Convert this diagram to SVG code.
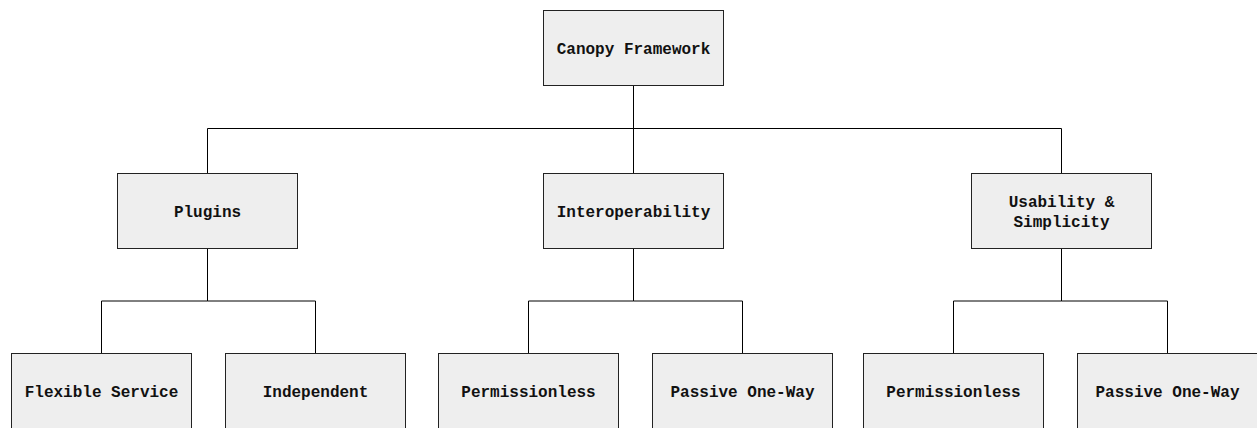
<svg xmlns="http://www.w3.org/2000/svg" width="1257" height="428" viewBox="0 0 1257 428">
  <style>
    .box { fill: #eeeeee; stroke: #222222; stroke-width: 1; }
    .label { font-family: "Liberation Mono", "Courier New", monospace; font-weight: bold; font-size: 16px; fill: #111111; text-anchor: middle; }
    .edge { fill: none; stroke: #000000; stroke-width: 1; }
  </style>
  <rect width="1257" height="428" fill="#ffffff"/>

  <!-- tree connectors: parent bottom to child top, orthogonal -->
  <g id="connectors">
    <path class="edge" d="M633.5 85 V128.5 H207.5 V173"/>
    <path class="edge" d="M633.5 85 V128.5 V173"/>
    <path class="edge" d="M633.5 85 V128.5 H1061.5 V173"/>
    <path class="edge" d="M207.5 248 V301 H101.5 V353"/>
    <path class="edge" d="M207.5 248 V301 H315.5 V353"/>
    <path class="edge" d="M633.5 248 V301 H528.5 V353"/>
    <path class="edge" d="M633.5 248 V301 H742.5 V353"/>
    <path class="edge" d="M1061.5 248 V301 H953.5 V353"/>
    <path class="edge" d="M1061.5 248 V301 H1167.5 V353"/>
  </g>

  <g id="canopy-framework">
    <rect class="box" x="543.5" y="10.5" width="180" height="75"/>
    <text class="label" x="633.5" y="54">Canopy Framework</text>
  </g>

  <g id="plugins">
    <rect class="box" x="117.5" y="173.5" width="180" height="75"/>
    <text class="label" x="207.5" y="217">Plugins</text>
  </g>
  <g id="interoperability">
    <rect class="box" x="543.5" y="173.5" width="180" height="75"/>
    <text class="label" x="633.5" y="217">Interoperability</text>
  </g>
  <g id="usability-simplicity">
    <rect class="box" x="971.5" y="173.5" width="180" height="75"/>
    <text class="label" x="1061.5" y="207">Usability &amp;</text>
    <text class="label" x="1061.5" y="227">Simplicity</text>
  </g>

  <g id="flexible-service">
    <rect class="box" x="11.5" y="353.5" width="180" height="75"/>
    <text class="label" x="101.5" y="397">Flexible Service</text>
  </g>
  <g id="independent">
    <rect class="box" x="225.5" y="353.5" width="180" height="75"/>
    <text class="label" x="315.5" y="397">Independent</text>
  </g>
  <g id="permissionless-1">
    <rect class="box" x="438.5" y="353.5" width="180" height="75"/>
    <text class="label" x="528.5" y="397">Permissionless</text>
  </g>
  <g id="passive-one-way-1">
    <rect class="box" x="652.5" y="353.5" width="180" height="75"/>
    <text class="label" x="742.5" y="397">Passive One-Way</text>
  </g>
  <g id="permissionless-2">
    <rect class="box" x="863.5" y="353.5" width="180" height="75"/>
    <text class="label" x="953.5" y="397">Permissionless</text>
  </g>
  <g id="passive-one-way-2">
    <rect class="box" x="1077.5" y="353.5" width="180" height="75"/>
    <text class="label" x="1167.5" y="397">Passive One-Way</text>
  </g>
</svg>
